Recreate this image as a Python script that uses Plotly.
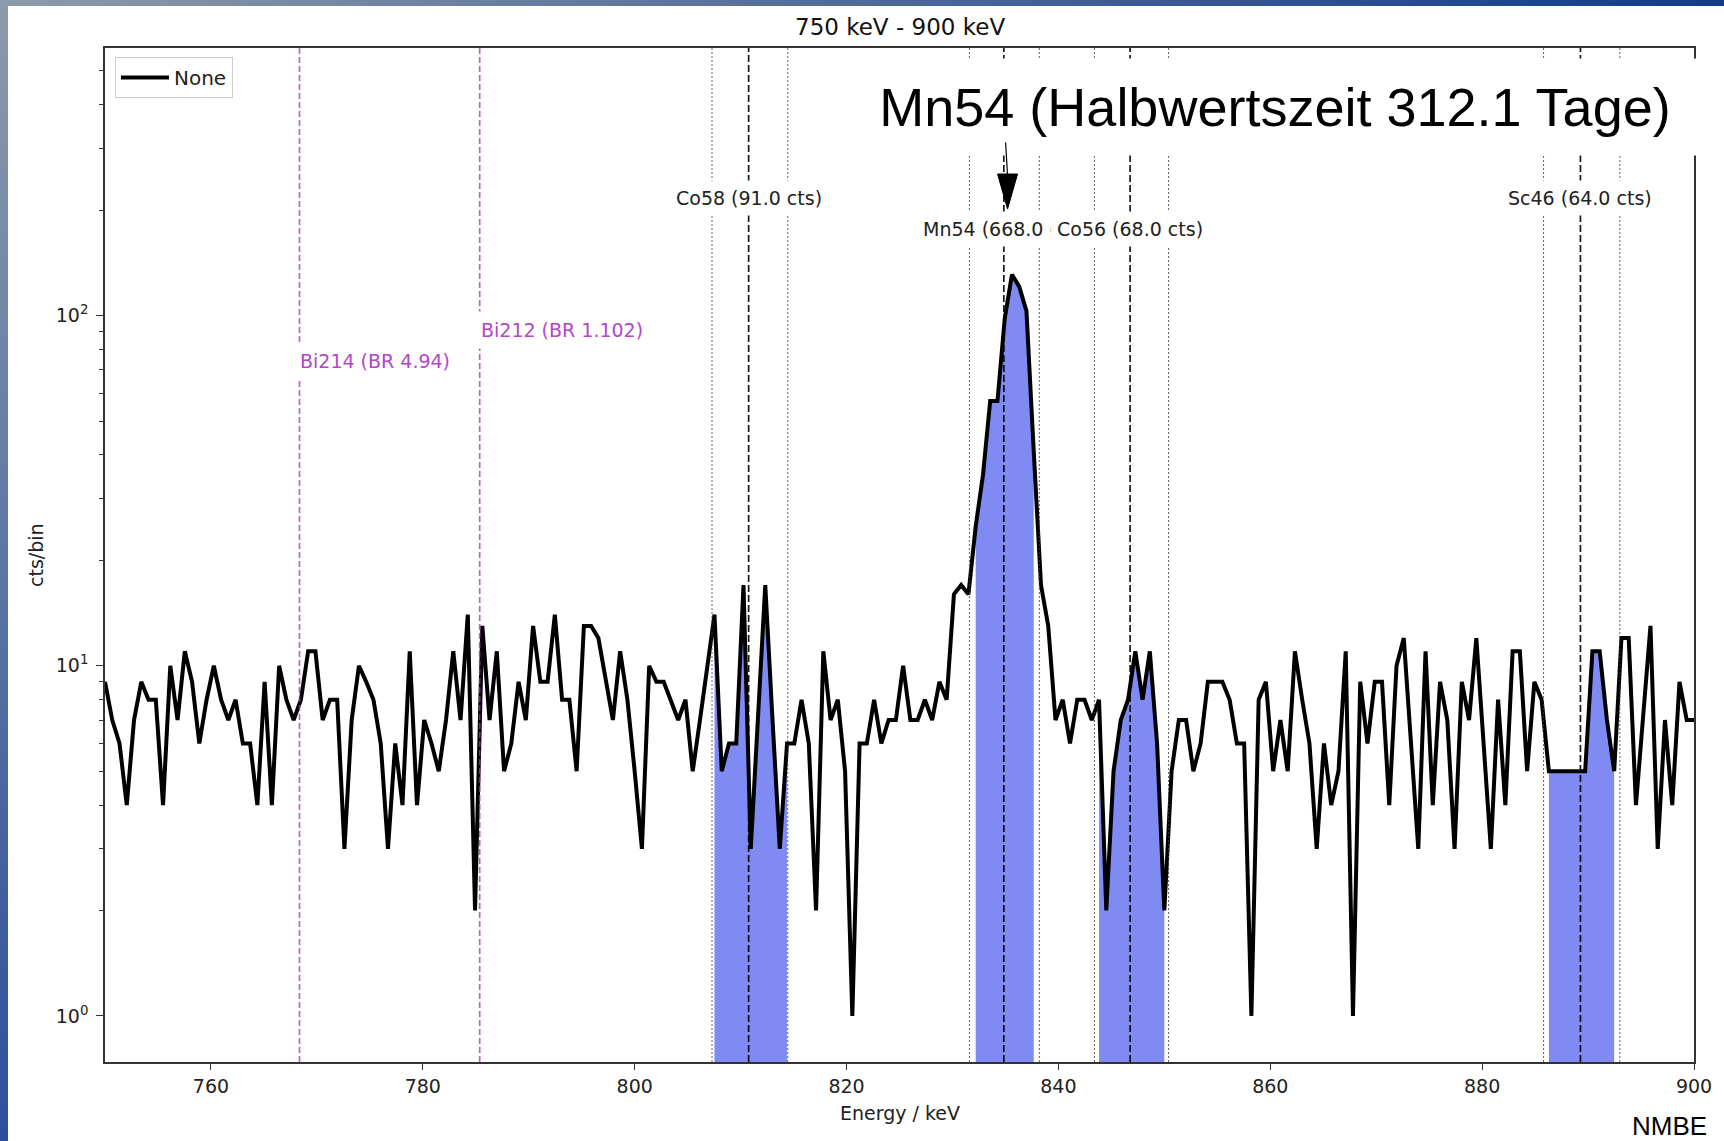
import base64
import numpy as np
import plotly.graph_objects as go

# ---------------------------------------------------------------- data
E_MIN, E_MAX = 750.0, 900.0

# counts per bin (bin centres evenly spaced over 750-900 keV)
counts = [
    9, 7, 6, 4, 7, 9, 8, 8, 4, 10,
    7, 11, 9, 6, 8, 10, 8, 7, 8, 6,
    6, 4, 9, 4, 10, 8, 7, 8, 11, 11,
    7, 8, 8, 3, 7, 10, 9, 8, 6, 3,
    6, 4, 11, 4, 7, 6, 5, 7, 11, 7,
    14, 2, 13, 7, 11, 5, 6, 9, 7, 13,
    9, 9, 14, 8, 8, 5, 13, 13, 12, 9,
    7, 11, 8, 5, 3, 10, 9, 9, 8, 7,
    8, 5, 7, 10, 14, 5, 6, 6, 17, 3,
    7, 17, 7, 3, 6, 6, 8, 6, 2, 11,
    7, 8, 5, 1, 6, 6, 8, 6, 7, 7,
    10, 7, 7, 8, 7, 9, 8, 16, 17, 16,
    25, 35, 57, 57, 98, 131, 121, 103, 41, 17,
    13, 7, 8, 6, 8, 8, 7, 8, 2, 5,
    7, 8, 11, 8, 11, 6, 2, 5, 7, 7,
    5, 6, 9, 9, 9, 8, 6, 6, 1, 8,
    9, 5, 7, 5, 11, 8, 6, 3, 6, 4,
    5, 11, 1, 9, 6, 9, 9, 4, 10, 12,
    6, 3, 11, 4, 9, 7, 3, 9, 7, 12,
    6, 3, 8, 4, 11, 11, 5, 9, 8, 5,
    5, 5, 5, 5, 5, 11, 11, 7, 5, 12,
    12, 4, 7, 13, 3, 7, 4, 9, 7, 7,
]
energy = np.linspace(E_MIN, E_MAX, len(counts))

# identified lines: label, energy, integration window, counts in window
peak_names = ["Co58", "Mn54", "Co56", "Sc46"]
peak_energy = [810.76, 834.85, 846.77, 889.28]
window_lo = [807.30, 831.60, 843.40, 885.80]
window_hi = [814.45, 838.20, 850.40, 893.00]
peak_cts = [91.0, 668.0, 68.0, 64.0]
label_row = [0, 1, 1, 0]          # 0 = upper label row, 1 = lower

# background lines (branching ratio)
bg_names = ["Bi214", "Bi212"]
bg_energy = [768.36, 785.37]
bg_br = ["4.94", "1.102"]
bg_row = [1, 0]

x_ticks = [760, 780, 800, 820, 840, 860, 880, 900]
y_major = [1, 10, 100]
y_major_text = ["10<sup>0</sup>", "10<sup>1</sup>", "10<sup>2</sup>"]
y_minor = [m * d for d in (1, 10, 100) for m in range(2, 10)]

TITLE = "750 keV - 900 keV"
HIGHLIGHT = "Mn54 (Halbwertszeit 312.1 Tage)"

# ---------------------------------------------------------------- layout geometry
W, H = 1724, 1141
ML, MR, MT, MB = 105, 30, 48, 79
PW, PH = W - ML - MR, H - MT - MB
Y_RANGE = [-0.1316, 2.7644]


def px_x(px):
    return (px - ML) / PW


def px_y(py):
    return (MT + PH - py) / PH


def kev_per_px():
    return (E_MAX - E_MIN) / PW


def grad_uri(c1, c2, vertical):
    x2, y2 = ("0", "1") if vertical else ("1", "0")
    svg = (
        '<svg xmlns="http://www.w3.org/2000/svg" width="100" height="100" '
        'preserveAspectRatio="none"><defs><linearGradient id="g" x1="0" y1="0" '
        f'x2="{x2}" y2="{y2}"><stop offset="0" stop-color="{c1}"/>'
        f'<stop offset="1" stop-color="{c2}"/></linearGradient></defs>'
        '<rect width="100" height="100" fill="url(#g)"/></svg>'
    )
    return "data:image/svg+xml;base64," + base64.b64encode(svg.encode()).decode()


DEJAVU = "DejaVu Sans, Verdana, sans-serif"
ARIAL = "Liberation Sans, Arial, sans-serif"
PURPLE_LINE = "rgba(175,40,190,0.75)"
PURPLE_TEXT = "rgb(180,70,200)"
FILL = "rgb(127,139,243)"

fig = go.Figure()

# shaded integration windows
for lo, hi in zip(window_lo, window_hi):
    sel = [(e, c) for e, c in zip(energy, counts) if lo <= e <= hi]
    xs = [e for e, _ in sel]
    ys = [c for _, c in sel]
    fig.add_trace(go.Scatter(
        x=xs + xs[::-1], y=ys + [0.05] * len(xs),
        fill="toself", fillcolor=FILL, mode="none",
        hoverinfo="skip", showlegend=False,
    ))

# spectrum
fig.add_trace(go.Scatter(
    x=energy, y=counts, mode="lines", name="None",
    line=dict(color="black", width=4),
))

shapes = []
for e in bg_energy:
    shapes.append(dict(type="line", xref="x", yref="paper", x0=e, x1=e, y0=0, y1=1,
                       line=dict(color=PURPLE_LINE, width=1.7, dash="6px,3px"), layer="above"))
for e, lo, hi in zip(peak_energy, window_lo, window_hi):
    for b in (lo, hi):
        shapes.append(dict(type="line", xref="x", yref="paper", x0=b, x1=b, y0=0, y1=1,
                           line=dict(color="rgba(60,60,60,0.8)", width=1, dash="2px,2px"),
                           layer="above"))
    shapes.append(dict(type="line", xref="x", yref="paper", x0=e, x1=e, y0=0, y1=1,
                       line=dict(color="rgba(0,0,0,0.9)", width=1.7, dash="7px,3px"),
                       layer="above"))

# arrow head pointing at the Mn54 line
mn_e = peak_energy[peak_names.index("Mn54")] + 0.35
half = 10 * kev_per_px()
shapes.append(dict(
    type="path", xref="x", yref="paper",
    path=(f"M {mn_e},{px_y(209)} L {mn_e - half},{px_y(174)} "
          f"L {mn_e + half},{px_y(174)} Z"),
    fillcolor="black", line=dict(color="black", width=1), layer="above",
))

# frame strips of the slide background
images = [
    dict(source=grad_uri("#8c9bab", "#123a88", vertical=False), xref="paper", yref="paper",
         x=px_x(0), y=px_y(0), sizex=W / PW, sizey=6 / PH, sizing="stretch",
         xanchor="left", yanchor="top", layer="above"),
    dict(source=grad_uri("#8c9bab", "#2d4f9c", vertical=True), xref="paper", yref="paper",
         x=px_x(0), y=px_y(0), sizex=8 / PW, sizey=H / PH, sizing="stretch",
         xanchor="left", yanchor="top", layer="above"),
]

ann = []
row_y = [px_y(198), px_y(229)]
bg_row_y = [px_y(330), px_y(361)]
for name, e, br, r in zip(bg_names, bg_energy, bg_br, bg_row):
    ann.append(dict(x=e, xref="x", y=bg_row_y[r], yref="paper", text=f"{name} (BR {br})",
                    showarrow=False, xanchor="left", yanchor="middle", xshift=-7,
                    font=dict(family=DEJAVU, size=19, color=PURPLE_TEXT),
                    bgcolor="white", borderpad=7))
for name, e, c, r in zip(peak_names, peak_energy, peak_cts, label_row):
    ann.append(dict(x=e, xref="x", y=row_y[r], yref="paper", text=f"{name} ({c:.1f} cts)",
                    showarrow=False, xanchor="center", yanchor="middle",
                    font=dict(family=DEJAVU, size=19, color="#222"),
                    bgcolor="white", borderpad=6))

ann.append(dict(x=px_x(1275), y=px_y(107), xref="paper", yref="paper", text=HIGHLIGHT,
                showarrow=False, xanchor="center", yanchor="middle", width=826,
                align="center", font=dict(family=ARIAL, size=54, color="black"),
                bgcolor="white", borderpad=18))
# arrow shaft (drawn above the text box)
ann.append(dict(x=mn_e, xref="x", y=px_y(176), yref="paper", text="",
                showarrow=True, arrowhead=0, arrowwidth=1.2, arrowcolor="black",
                ax=-2, ay=-(176 - 141), standoff=0, startstandoff=0))

ann.append(dict(x=0.5, y=px_y(27), xref="paper", yref="paper", text=TITLE,
                xanchor="center", yanchor="middle", showarrow=False,
                font=dict(family=DEJAVU, size=23, color="#111")))
ann.append(dict(x=0.5, y=px_y(1113), xref="paper", yref="paper", text="Energy / keV",
                xanchor="center", yanchor="middle", showarrow=False,
                font=dict(family=DEJAVU, size=19, color="#222")))
ann.append(dict(x=px_x(36), y=0.5, xref="paper", yref="paper", text="cts/bin",
                xanchor="center", yanchor="middle", textangle=-90, showarrow=False,
                font=dict(family=DEJAVU, size=19, color="#222")))
ann.append(dict(x=px_x(1669), y=px_y(1126), xref="paper", yref="paper", text="NMBE",
                xanchor="center", yanchor="middle", showarrow=False,
                font=dict(family=ARIAL, size=26, color="black")))

fig.update_layout(
    width=W, height=H,
    margin=dict(l=ML, r=MR, t=MT, b=MB, pad=0),
    paper_bgcolor="white", plot_bgcolor="white",
    shapes=shapes, annotations=ann, images=images,
    showlegend=True,
    legend=dict(x=px_x(115), y=px_y(57), xanchor="left", yanchor="top",
                bgcolor="rgba(255,255,255,0.9)", bordercolor="#cccccc", borderwidth=1,
                itemwidth=48, entrywidth=72,
                font=dict(family=DEJAVU, size=20, color="#222")),
)
fig.update_xaxes(
    range=[E_MIN, E_MAX], tickvals=x_ticks, ticks="outside", ticklen=6, tickwidth=1.3,
    tickcolor="#333", showgrid=False, zeroline=False, showline=True, mirror=True,
    linecolor="#333", linewidth=1.6,
    tickfont=dict(family=DEJAVU, size=19, color="#222"),
)
fig.update_yaxes(
    type="log", range=Y_RANGE, tickvals=y_major, ticktext=y_major_text,
    ticks="outside", ticklen=7, tickwidth=1.3, tickcolor="#333",
    minor=dict(tickvals=y_minor, ticks="outside", ticklen=4, tickwidth=1, tickcolor="#333"),
    showgrid=False, zeroline=False, showline=True, mirror=True,
    linecolor="#333", linewidth=1.6, ticklabelstandoff=4,
    tickfont=dict(family=DEJAVU, size=19, color="#222"),
)

fig.write_html("out.html")
